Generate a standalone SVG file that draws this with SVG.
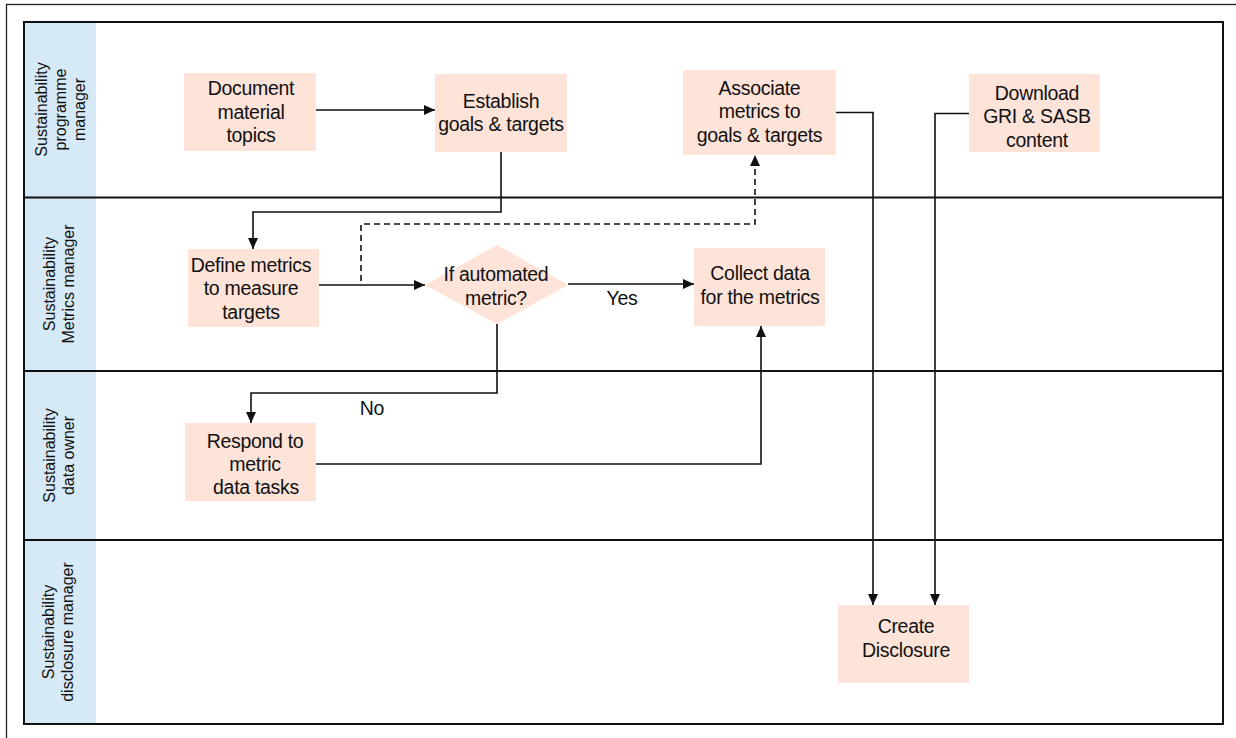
<svg xmlns="http://www.w3.org/2000/svg" width="1236" height="738" viewBox="0 0 1236 738">
<defs>
<style>
.frame{fill:none;stroke:#222;stroke-width:1.3}
.pool{fill:none;stroke:#111;stroke-width:2}
.hdr{fill:#D6E9F6}
.div{stroke:#111;stroke-width:2}
.node{fill:#FDE3D8}
.t{font-family:"Liberation Sans",Arial,sans-serif;font-size:19.5px;letter-spacing:-0.3px;fill:#111;text-anchor:middle}
.lt{font-family:"Liberation Sans",Arial,sans-serif;font-size:16px;fill:#111;text-anchor:middle}
.c{fill:none;stroke:#111;stroke-width:1.6}
.d{stroke-dasharray:6,4}
</style>
<marker id="ah" markerUnits="userSpaceOnUse" markerWidth="12" markerHeight="10" refX="11" refY="5" orient="auto">
<path d="M0,0 L11,5 L0,10 z" fill="#111"/>
</marker>
</defs>
<rect x="0" y="0" width="1236" height="738" fill="#fff"/>
<rect class="frame" x="6.5" y="4.5" width="1250" height="760"/>

<g id="pool">
<rect class="hdr" x="24" y="22" width="72" height="702"/>
<rect class="pool" x="24" y="22" width="1199" height="702"/>
<line class="div" x1="24" y1="197.5" x2="1223" y2="197.5"/>
<line class="div" x1="24" y1="371" x2="1223" y2="371"/>
<line class="div" x1="24" y1="540" x2="1223" y2="540"/>
</g>

<g id="lane-labels">
<g id="lane1" transform="translate(0,109.5) rotate(-90)">
<text class="lt" x="0" y="47">Sustainability</text>
<text class="lt" x="0" y="66">programme</text>
<text class="lt" x="0" y="85">manager</text>
</g>
<g id="lane2" transform="translate(0,284) rotate(-90)">
<text class="lt" x="0" y="55">Sustainability</text>
<text class="lt" x="0" y="74">Metrics manager</text>
</g>
<g id="lane3" transform="translate(0,455.5) rotate(-90)">
<text class="lt" x="0" y="55">Sustainability</text>
<text class="lt" x="0" y="74">data owner</text>
</g>
<g id="lane4" transform="translate(0,632) rotate(-90)">
<text class="lt" x="0" y="54">Sustainability</text>
<text class="lt" x="0" y="73">disclosure manager</text>
</g>
</g>

<g id="connectors">
<path class="c" d="M316,110 H435" marker-end="url(#ah)"/>
<path class="c" d="M501,152 V212 H253 V249" marker-end="url(#ah)"/>
<path class="c" d="M319,285 H425" marker-end="url(#ah)"/>
<path class="c d" d="M361,281 V224 H755 V155" marker-end="url(#ah)"/>
<path class="c" d="M568,284 H694" marker-end="url(#ah)"/>
<path class="c" d="M497,324 V393 H251 V423" marker-end="url(#ah)"/>
<path class="c" d="M316,464 H761 V326" marker-end="url(#ah)"/>
<path class="c" d="M836,112.5 H873 V605" marker-end="url(#ah)"/>
<path class="c" d="M969,113.5 H935 V605" marker-end="url(#ah)"/>
<text class="t" x="622" y="305">Yes</text>
<text class="t" x="372" y="415">No</text>
</g>

<g id="n-document">
<rect class="node" x="184" y="73" width="132" height="78"/>
<text class="t" x="251" y="95">Document</text>
<text class="t" x="251" y="118.5">material</text>
<text class="t" x="251" y="142">topics</text>
</g>
<g id="n-establish">
<rect class="node" x="435" y="74" width="132" height="78"/>
<text class="t" x="501" y="107.5">Establish</text>
<text class="t" x="501" y="131">goals &amp; targets</text>
</g>
<g id="n-associate">
<rect class="node" x="683" y="70" width="153" height="85"/>
<text class="t" x="759.5" y="94.5">Associate</text>
<text class="t" x="759.5" y="118">metrics to</text>
<text class="t" x="759.5" y="142">goals &amp; targets</text>
</g>
<g id="n-download">
<rect class="node" x="969" y="74" width="131" height="78"/>
<text class="t" x="1037" y="99.5">Download</text>
<text class="t" x="1037" y="123">GRI &amp; SASB</text>
<text class="t" x="1037" y="146.5">content</text>
</g>
<g id="n-define">
<rect class="node" x="188" y="249" width="131" height="78"/>
<text class="t" x="251" y="271.5">Define metrics</text>
<text class="t" x="251" y="295">to measure</text>
<text class="t" x="251" y="318.5">targets</text>
</g>
<g id="n-decision">
<polygon class="node" points="425,285 497,245 568,285 497,324"/>
<text class="t" x="496" y="280.5">If automated</text>
<text class="t" x="496" y="305">metric?</text>
</g>
<g id="n-collect">
<rect class="node" x="694" y="248" width="131" height="78"/>
<text class="t" x="760" y="280">Collect data</text>
<text class="t" x="760" y="304">for the metrics</text>
</g>
<g id="n-respond">
<rect class="node" x="185" y="423" width="131" height="78"/>
<text class="t" x="255" y="447.5">Respond to</text>
<text class="t" x="255" y="471">metric</text>
<text class="t" x="256" y="493.5">data tasks</text>
</g>
<g id="n-create">
<rect class="node" x="838" y="605" width="131" height="78"/>
<text class="t" x="906" y="633">Create</text>
<text class="t" x="906" y="657">Disclosure</text>
</g>
</svg>
